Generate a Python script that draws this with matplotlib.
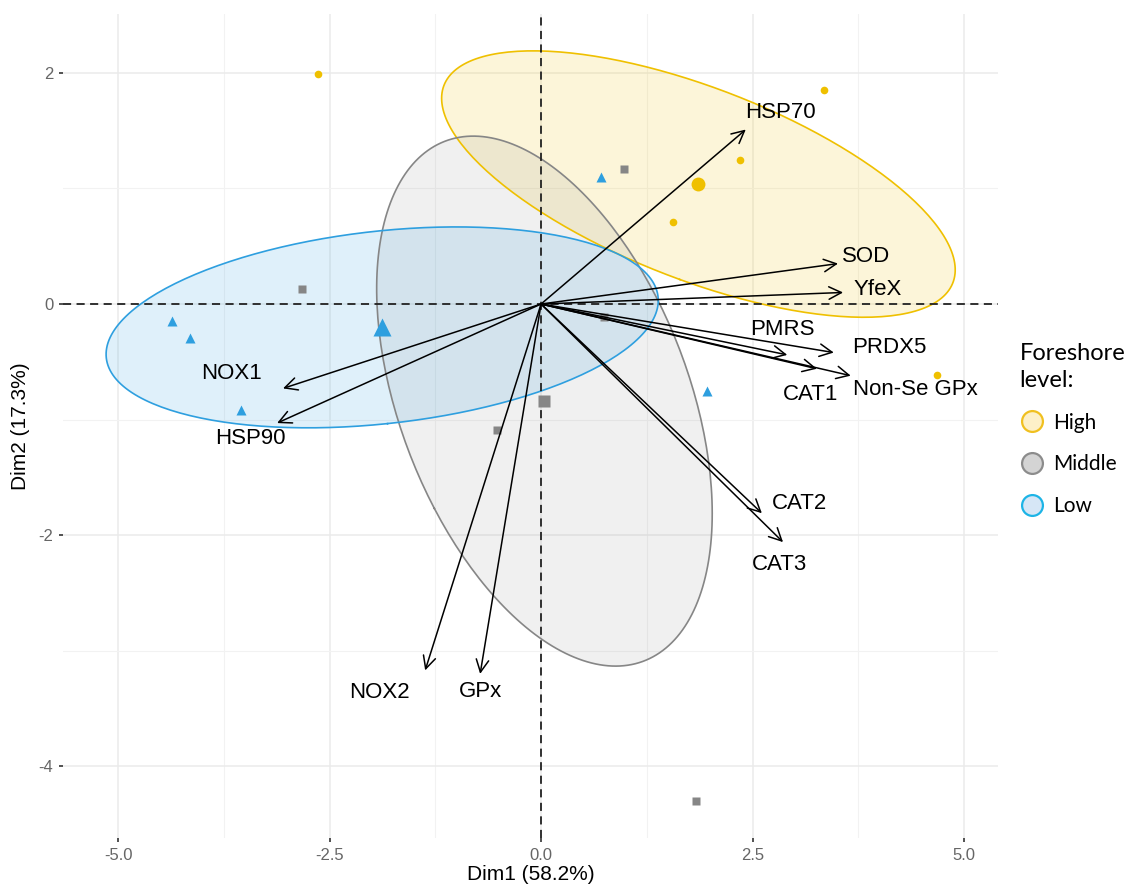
"""PCA biplot of stress-gene expression by foreshore level (individuals + variable arrows)."""

import matplotlib
matplotlib.use("Agg")
import matplotlib.pyplot as plt
import numpy as np
from matplotlib.lines import Line2D

plt.rcParams["axes.unicode_minus"] = False
plt.rcParams["font.family"] = ["Liberation Sans", "DejaVu Sans"]

# individuals (Dim1, Dim2) per foreshore level
HIGH_X = [-2.64, 3.35, 2.35, 1.56, 4.68]
HIGH_Y = [1.99, 1.85, 1.25, 0.71, -0.61]
MIDDLE_X = [0.98, -2.83, -0.52, 1.83, 0.74]
MIDDLE_Y = [1.17, 0.13, -1.09, -4.30, -0.11]
LOW_X = [0.71, -4.36, -4.15, -3.55, 1.96]
LOW_Y = [1.10, -0.15, -0.29, -0.92, -0.75]

# variable arrows
VARIABLES = ["HSP70", "SOD", "YfeX", "PMRS", "PRDX5", "CAT1", "Non-Se GPx",
             "CAT2", "CAT3", "NOX1", "HSP90", "NOX2", "GPx"]
VAR_X = [2.42, 3.51, 3.57, 2.91, 3.46, 3.26, 3.66, 2.61, 2.86, -3.05, -3.12, -1.37, -0.72]
VAR_Y = [1.51, 0.35, 0.10, -0.44, -0.42, -0.56, -0.62, -1.81, -2.06, -0.73, -1.03, -3.17, -3.20]

LEVELS = ["High", "Middle", "Low"]

# label nudges in pixels (repel-like placement)
LABEL_NUDGE = {
    "HSP70": (35, 17), "SOD": (28, 7), "YfeX": (35, 3), "PMRS": (-5, 25),
    "PRDX5": (56, 5), "CAT1": (-6, -26), "Non-Se GPx": (65, -14),
    "CAT2": (38, 10), "CAT3": (-4, -22), "NOX1": (-52, 15),
    "HSP90": (-27, -15), "NOX2": (-46, -22), "GPx": (0, -18),
}

STYLE = {
    "High": dict(color="#EFC000", marker="o", ms=5.5, cms=10),
    "Middle": dict(color="#868686", marker="s", ms=5.5, cms=8.5),
    "Low": dict(color="#2E9FDF", marker="^", ms=7, cms=12.5),
}
LEGEND_KEY = {
    "High": ("#FDF0C8", "#F0C020"),
    "Middle": ("#D4D4D4", "#8C8C8C"),
    "Low": ("#D6E6F6", "#1DB4E6"),
}


def confidence_ellipse(x, y, n_pts=240):
    """Confidence ellipse around the group barycentre (95%)."""
    pts = np.column_stack([x, y])
    mean = pts.mean(axis=0)
    cov = np.cov(pts.T)
    vals, vecs = np.linalg.eigh(cov)
    scale = np.sqrt(-2 * np.log(0.05)) / np.sqrt(len(x))
    t = np.linspace(0, 2 * np.pi, n_pts)
    circle = np.vstack([np.cos(t), np.sin(t)])
    ell = vecs @ np.diag(np.sqrt(vals)) @ circle * scale
    return mean, mean[0] + ell[0], mean[1] + ell[1]


fig = plt.figure(figsize=(11.34, 8.93), dpi=100)
ax = fig.add_axes([0.0556, 0.0616, 0.8244, 0.9228])

groups = {"High": (HIGH_X, HIGH_Y), "Middle": (MIDDLE_X, MIDDLE_Y), "Low": (LOW_X, LOW_Y)}

alphas = {"High": 0.15, "Middle": 0.12, "Low": 0.15}
for lvl in LEVELS:
    gx, gy = groups[lvl]
    st = STYLE[lvl]
    center, ex, ey = confidence_ellipse(gx, gy)
    ax.fill(ex, ey, color=st["color"], alpha=alphas[lvl], lw=0, zorder=1)
    ax.plot(ex, ey, color=st["color"], lw=1.2, zorder=2)

for lvl in LEVELS:
    gx, gy = groups[lvl]
    st = STYLE[lvl]
    ax.plot(gx, gy, ls="none", marker=st["marker"], ms=st["ms"], color=st["color"],
            mec="none", zorder=3)
    ax.plot(np.mean(gx), np.mean(gy), ls="none", marker=st["marker"], ms=st["cms"],
            color=st["color"], mec="none", zorder=3)

ax.axhline(0, color="#222222", lw=1.3, ls=(0, (4.5, 3)), zorder=2.5)
ax.axvline(0, color="#222222", lw=1.3, ls=(0, (4.5, 3)), zorder=2.5)

for name, vx, vy in zip(VARIABLES, VAR_X, VAR_Y):
    ax.annotate("", xy=(vx, vy), xytext=(0, 0),
                arrowprops=dict(arrowstyle="->,head_length=0.5,head_width=0.25",
                                mutation_scale=18, lw=1.1, color="black",
                                shrinkA=0, shrinkB=0), zorder=4)
    dx, dy = LABEL_NUDGE[name]
    ax.annotate(name, xy=(vx, vy), xytext=(dx, dy), textcoords="offset pixels",
                ha="center", va="center", fontsize=16, color="black", zorder=5)

ax.set_xlim(-5.65, 5.40)
ax.set_ylim(-4.62, 2.51)
ax.set_xticks([-5.0, -2.5, 0.0, 2.5, 5.0])
ax.set_xticklabels(["-5.0", "-2.5", "0.0", "2.5", "5.0"])
ax.set_yticks([-4, -2, 0, 2])
ax.set_yticklabels(["-4", "-2", "0", "2"])
ax.set_xticks([-3.75, -1.25, 1.25, 3.75], minor=True)
ax.set_yticks([-3, -1, 1], minor=True)
ax.grid(True, which="major", color="#EBEBEB", lw=1.1)
ax.grid(True, which="minor", color="#F2F2F2", lw=0.8)
ax.set_axisbelow(True)
for sp in ax.spines.values():
    sp.set_visible(False)
ax.tick_params(axis="both", which="major", length=3, width=1.2, color="#333333",
               labelcolor="#666666", labelsize=12, pad=4)
ax.tick_params(axis="both", which="minor", length=0)

ax.set_xlabel("Dim1 (58.2%)", fontsize=15, labelpad=2)
ax.set_ylabel("Dim2 (17.3%)", fontsize=15, labelpad=6)

handles = [Line2D([], [], ls="none", marker="o", ms=15, mfc=LEGEND_KEY[l][0],
                  mec=LEGEND_KEY[l][1], mew=1.6) for l in LEVELS]
leg = fig.legend(handles, LEVELS, title="Foreshore\nlevel:", loc="center left",
                 bbox_to_anchor=(0.899, 0.519), frameon=False, borderpad=0,
                 borderaxespad=0,
                 prop={"family": ["Lato", "DejaVu Sans"], "size": 15},
                 handletextpad=0.4, labelspacing=1.05, handlelength=1.2)
title = leg.get_title()
title.set_fontfamily(["Lato", "DejaVu Sans"])
title.set_fontsize(17)
title.set_linespacing(1.35)
leg._legend_box.align = "left"

fig.savefig("out.png", dpi=100)
